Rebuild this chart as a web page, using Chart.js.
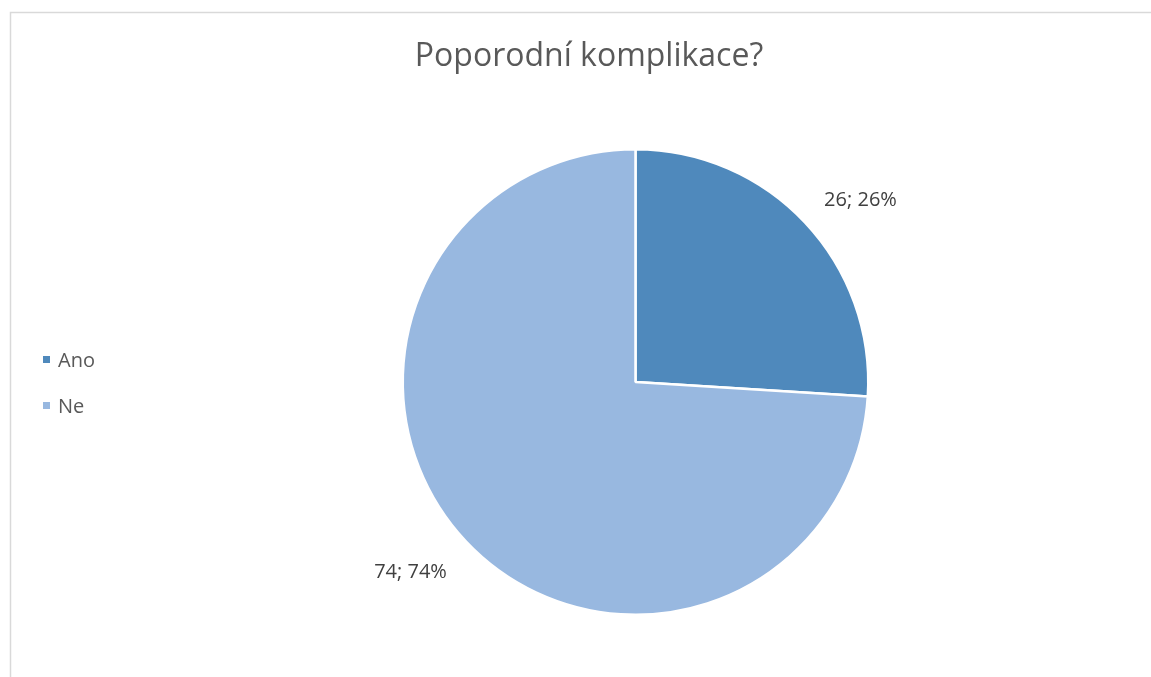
<!DOCTYPE html>
<html>
<head>
<meta charset="utf-8">
<title>Poporodní komplikace?</title>
<script src="https://cdn.jsdelivr.net/npm/chart.js@4"></script>
<style>
  html, body { margin: 0; padding: 0; background: #fff; }
  #wrap { width: 1151px; height: 677px; position: relative; }
</style>
</head>
<body>
<div id="wrap"><canvas id="pieChart"></canvas></div>
<script>
var pieLabels = ['Ano', 'Ne'];
var pieValues = [26, 74];
var pieColors = ['#4f89bc', '#98b8e0'];
var chartTitle = 'Poporodní komplikace?';

var fontName = '"Open Sans", "Liberation Sans", sans-serif';

// rámeček kolem grafu (jen horní a levá hrana je vidět)
var framePlugin = {
    id: 'frame',
    beforeDraw: function (chart) {
        var ctx = chart.ctx;
        ctx.save();
        ctx.strokeStyle = '#d9d9d9';
        ctx.lineWidth = 1.5;
        ctx.beginPath();
        ctx.moveTo(10.5, chart.height);
        ctx.lineTo(10.5, 12.5);
        ctx.lineTo(chart.width, 12.5);
        ctx.stroke();
        ctx.restore();
    }
};

// nadpis, legenda vlevo a popisky "hodnota; procento"
var textPlugin = {
    id: 'texts',
    afterDraw: function (chart) {
        var ctx = chart.ctx;
        ctx.save();

        ctx.fillStyle = '#595959';
        ctx.font = '32px ' + fontName;
        ctx.textAlign = 'center';
        ctx.textBaseline = 'middle';
        ctx.fillText(chartTitle, 589, 57);

        ctx.font = '20px ' + fontName;
        ctx.textAlign = 'left';
        for (var i = 0; i < pieLabels.length; i++) {
            var y = 360 + i * 46;
            ctx.fillStyle = pieColors[i];
            ctx.fillRect(43, y - 4, 7, 7);
            ctx.fillStyle = '#595959';
            ctx.fillText(pieLabels[i], 58, y + 1);
        }

        var total = pieValues.reduce(function (a, b) { return a + b; }, 0);
        var meta = chart.getDatasetMeta(0);
        ctx.fillStyle = '#404040';
        meta.data.forEach(function (arc, idx) {
            var p = arc.getProps(['x', 'y', 'startAngle', 'endAngle', 'outerRadius'], true);
            var mid = (p.startAngle + p.endAngle) / 2;
            var d = p.outerRadius + 26;
            var cx = p.x + Math.cos(mid) * d;
            var cy = p.y + Math.sin(mid) * d;
            ctx.textAlign = Math.cos(mid) >= 0 ? 'left' : 'right';
            ctx.textBaseline = Math.sin(mid) < 0 ? 'bottom' : 'top';
            var pct = Math.round(pieValues[idx] / total * 100);
            ctx.fillText(pieValues[idx] + '; ' + pct + '%', cx, cy + (Math.sin(mid) < 0 ? 5 : 3));
        });

        ctx.restore();
    }
};

var pieConfig = {
    type: 'pie',
    data: {
        labels: pieLabels,
        datasets: [{
            data: pieValues,
            backgroundColor: pieColors,
            borderColor: '#ffffff',
            borderWidth: 2.5
        }]
    },
    options: {
        responsive: true,
        maintainAspectRatio: false,
        animation: false,
        layout: {
            padding: { top: 148, bottom: 61, left: 401, right: 281 }
        },
        plugins: {
            legend: { display: false },
            title: { display: false },
            tooltip: { enabled: false }
        }
    },
    plugins: [framePlugin, textPlugin]
};

var pieChart = new Chart(document.getElementById('pieChart'), pieConfig);
</script>
</body>
</html>
